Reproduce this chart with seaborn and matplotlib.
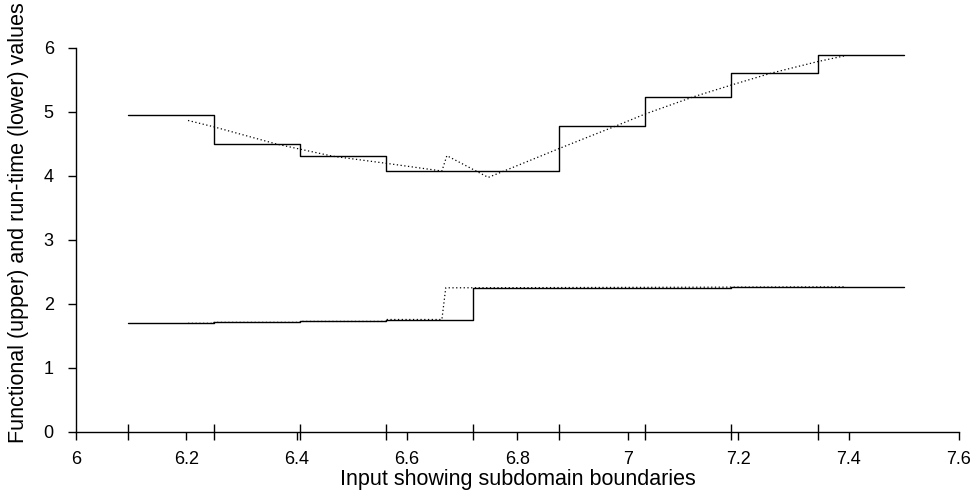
import numpy as np
import pandas as pd
import seaborn as sns
import matplotlib.pyplot as plt
from matplotlib.ticker import FixedLocator, FuncFormatter

# subdomain edges and the piecewise-constant values on each subdomain
edges = [6.09375, 6.25, 6.40625, 6.5625, 6.71875, 6.875, 7.03125, 7.1875, 7.34375, 7.5]
upper_steps = [4.95, 4.49, 4.30, 4.07, 4.07, 4.78, 5.23, 5.60, 5.88]
lower_steps = [1.69, 1.705, 1.72, 1.75, 2.24, 2.245, 2.25, 2.255, 2.26]

# dotted reference curves
upper_x = [6.203, 6.25, 6.364, 6.466, 6.5625, 6.663, 6.672, 6.747, 6.841, 6.875,
           6.98, 7.031, 7.119, 7.19, 7.26, 7.344, 7.393]
upper_y = [4.86, 4.76, 4.49, 4.30, 4.19, 4.07, 4.31, 3.97, 4.30, 4.42,
           4.78, 4.96, 5.23, 5.42, 5.60, 5.78, 5.87]
lower_x = [6.203, 6.25, 6.25, 6.40625, 6.40625, 6.5625, 6.5625, 6.663, 6.67, 7.393]
lower_y = [1.69, 1.69, 1.705, 1.705, 1.72, 1.72, 1.75, 1.75, 2.245, 2.26]

x_ticks = [6, 6.2, 6.4, 6.6, 6.8, 7, 7.2, 7.4, 7.6]
y_ticks = [0, 1, 2, 3, 4, 5, 6]

sns.set_style("ticks", {"text.color": "black", "axes.labelcolor": "black",
                        "xtick.color": "black", "ytick.color": "black"})
plt.rcParams["font.family"] = ["Liberation Sans", "DejaVu Sans"]

fig = plt.figure(figsize=(9.77, 4.90), dpi=100)
ax = fig.add_axes([76 / 977, 1 - 431.5 / 490, 883 / 977, 384 / 490])

steps = pd.DataFrame({
    "x": edges,
    "upper": upper_steps + [upper_steps[-1]],
    "lower": lower_steps + [lower_steps[-1]],
})
for col in ["upper", "lower"]:
    sns.lineplot(data=steps, x="x", y=col, ax=ax, color="black", lw=1.0,
                 drawstyle="steps-post", estimator=None, sort=False)

dots_up = pd.DataFrame({"x": upper_x, "y": upper_y})
dots_lo = pd.DataFrame({"x": lower_x, "y": lower_y})
for d in [dots_up, dots_lo]:
    sns.lineplot(data=d, x="x", y="y", ax=ax, color="black", lw=0.9,
                 linestyle=(0, (1, 2)), estimator=None, sort=False)

ax.set_xlim(6, 7.6)
ax.set_ylim(0, 6)
sns.despine(ax=ax)
for s in ["left", "bottom"]:
    ax.spines[s].set_color("black")
    ax.spines[s].set_linewidth(1.0)

ax.xaxis.set_major_locator(FixedLocator(x_ticks))
ax.xaxis.set_major_formatter(FuncFormatter(lambda v, p: f"{v:g}"))
ax.xaxis.set_minor_locator(FixedLocator(edges[:-1]))
ax.set_yticks(y_ticks)
ax.tick_params(axis="x", which="major", direction="out", length=6, width=1,
               color="black", labelcolor="black", labelsize=13, pad=8)
ax.tick_params(axis="x", which="minor", direction="inout", length=11, width=1,
               color="black")
ax.tick_params(axis="y", direction="out", length=6, width=1, color="black",
               labelcolor="black", labelsize=13, pad=10)

ax.set_xlabel("Input showing subdomain boundaries", fontsize=15.5, labelpad=1,
              color="black")
ax.set_ylabel("Functional (upper) and run-time (lower) values", fontsize=15.5,
              color="black")
ax.yaxis.set_label_coords(-0.053, 0.545)

fig.savefig("out.png", dpi=100)
